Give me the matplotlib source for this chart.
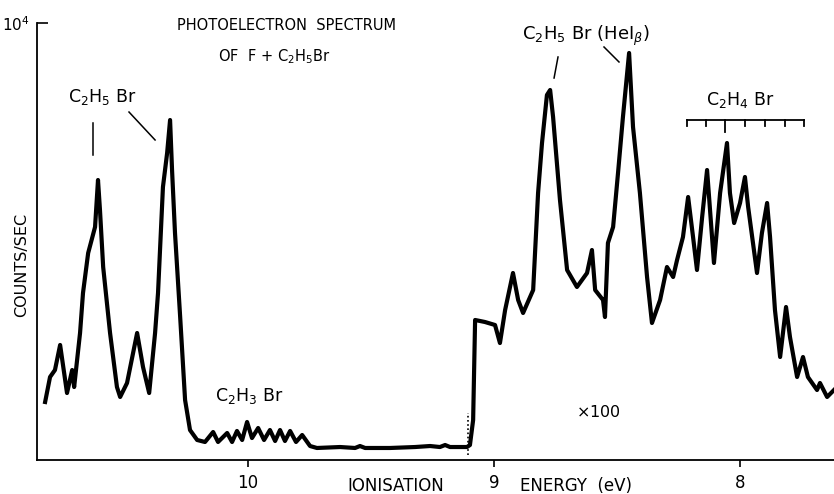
import numpy as np
import matplotlib
matplotlib.use("Agg")
import matplotlib.pyplot as plt

# ionisation energy (eV) and count rate
energy = [10.825, 10.805, 10.785, 10.764, 10.748, 10.736, 10.715, 10.707, 10.683, 10.671,
          10.650, 10.622, 10.610, 10.602, 10.589, 10.561, 10.533, 10.520, 10.492, 10.451,
          10.427, 10.402, 10.378, 10.366, 10.346, 10.329, 10.317, 10.309, 10.297, 10.276,
          10.256, 10.236, 10.207, 10.175, 10.142, 10.122, 10.085, 10.065, 10.045, 10.024,
          10.004, 9.984, 9.959, 9.935, 9.911, 9.890, 9.870, 9.850, 9.829, 9.805,
          9.780, 9.748, 9.720, 9.626, 9.565, 9.545, 9.524, 9.423, 9.321, 9.260,
          9.220, 9.199, 9.179, 9.110, 9.098, 9.085, 9.077, 9.037, 8.996, 8.976,
          8.955, 8.923, 8.902, 8.882, 8.841, 8.821, 8.805, 8.785, 8.772, 8.760,
          8.732, 8.703, 8.663, 8.622, 8.602, 8.589, 8.557, 8.549, 8.537, 8.516,
          8.496, 8.476, 8.451, 8.435, 8.407, 8.378, 8.358, 8.325, 8.297, 8.272,
          8.256, 8.232, 8.211, 8.191, 8.175, 8.154, 8.134, 8.122, 8.106, 8.081,
          8.053, 8.041, 8.024, 8.000, 7.980, 7.967, 7.931, 7.911, 7.890, 7.878,
          7.858, 7.837, 7.813, 7.797, 7.768, 7.744, 7.724, 7.687, 7.675, 7.646,
          7.618]
counts = [1327, 1899, 2059, 2632, 2014, 1533, 2059, 1670, 2906, 3822,
          4737, 5332, 6407, 5721, 4416, 2906, 1670, 1442, 1762, 2906,
          2128, 1533, 2906, 3822, 6247, 7025, 7780, 6636, 5195, 3272,
          1373, 686, 458, 412, 641, 412, 618, 412, 664, 458,
          870, 503, 732, 458, 686, 435, 686, 435, 664, 412,
          572, 320, 275, 297, 275, 320, 275, 275, 297, 320,
          297, 343, 297, 297, 343, 915, 3204, 3158, 3089, 2677,
          3432, 4279, 3661, 3364, 3890, 6110, 7254, 8352, 8467, 7849,
          5950, 4348, 3959, 4279, 4805, 3890, 3661, 3272, 4966, 5332,
          6568, 7849, 9314, 7620, 6110, 4188, 3135, 3661, 4416, 4188,
          4577, 5103, 6018, 5103, 4348, 5561, 6636, 5721, 4508, 6110,
          7254, 6110, 5423, 5881, 6476, 5789, 4279, 5195, 5881, 5103,
          3432, 2357, 3501, 2815, 1899, 2357, 1899, 1602, 1762, 1442,
          1602]

xticks = [10, 9, 8]
c2h4br_ticks = [8.215, 8.138, 8.061, 7.980, 7.898, 7.817, 7.740]

W, H = 834, 494
fig = plt.figure(figsize=(W / 100, H / 100), dpi=100)
ax = fig.add_axes([37 / W, 1 - 460 / H, 1 - 37 / W, (460 - 23) / H])

ax.plot(energy, counts, color="black", lw=3.0, solid_joinstyle="round")
ax.set_xlim(10.858, 7.618)
ax.set_ylim(0, 10000)

for s in ["top", "right"]:
    ax.spines[s].set_visible(False)
for s in ["left", "bottom"]:
    ax.spines[s].set_linewidth(1.3)

ax.set_xticks(xticks)
ax.set_xticklabels([str(t) for t in xticks], fontsize=12)
ax.tick_params(axis="x", direction="out", length=5, width=1.2, pad=5)
ax.set_yticks([10000])
ax.set_yticklabels(["$10^4$"], fontsize=11)
ax.tick_params(axis="y", direction="in", length=8, width=1.2, pad=5)

# threshold marker
ax.plot([9.106, 9.106], [114, 1076], color="black", lw=1.2, ls=(0, (1, 1.5)))

# label pointers
ax.plot([10.630, 10.630], [7712, 6979], color="black", lw=1.1)
ax.plot([10.484, 10.378], [7963, 7323], color="black", lw=1.1)
ax.plot([8.740, 8.756], [9222, 8741], color="black", lw=1.1)
ax.plot([8.553, 8.492], [9451, 9108], color="black", lw=1.1)

# C2H4Br vibrational comb
ax.plot([c2h4br_ticks[0], c2h4br_ticks[-1]], [7780, 7780], color="black", lw=1.3)
for i, t in enumerate(c2h4br_ticks):
    drop = 275 if i == 2 else 130
    ax.plot([t, t], [7780, 7780 - drop], color="black", lw=1.3)


def ftext(x, y, s, size=10, **kw):
    fig.text(x / W, 1 - y / H, s, fontsize=size, va="center", **kw)


ftext(177, 25, "PHOTOELECTRON  SPECTRUM", 10.5)
ftext(218, 57, "OF  F + C$_2$H$_5$Br", 10.5)
ftext(68, 97, "C$_2$H$_5$ Br", 12.5)
ftext(522, 36, "C$_2$H$_5$ Br (HeI$_\\beta$)", 13)
ftext(740, 100, "C$_2$H$_4$ Br", 12.5, ha="center")
ftext(215, 396, "C$_2$H$_3$ Br", 12.5)
ftext(576, 412, "$\\times$100", 11.5)
ftext(22, 265, "COUNTS/SEC", 11.5, rotation=90, ha="center")
ftext(347, 486, "IONISATION", 12)
ftext(520, 486, "ENERGY  (eV)", 12)

fig.savefig("out.png", dpi=100)
